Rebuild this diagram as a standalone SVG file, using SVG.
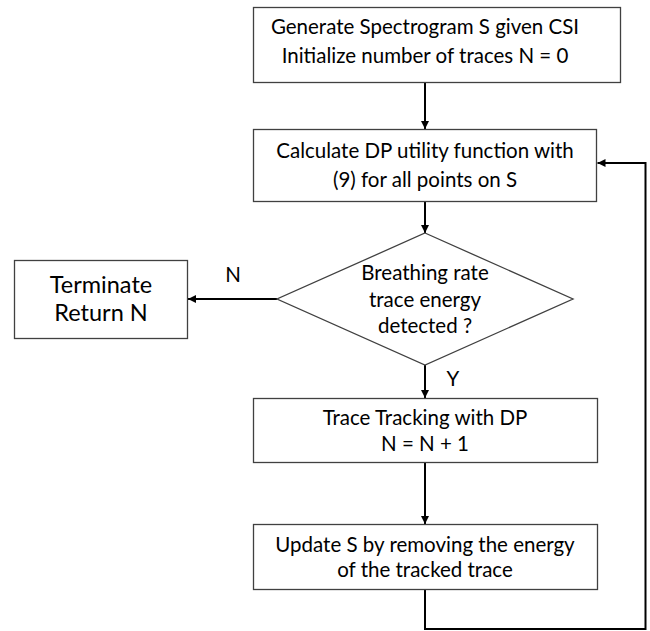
<svg xmlns="http://www.w3.org/2000/svg" width="650" height="631" viewBox="0 0 650 631">
<defs>
<style>
.box{fill:#fff;stroke:#404040;stroke-width:1.3}
.t{font-family:Lato,"Liberation Sans",sans-serif;font-size:20.5px;fill:#000;text-anchor:middle}
.tb{font-size:23.5px}
.c{fill:none;stroke:#000;stroke-width:2}
</style>
<marker id="ah" markerUnits="userSpaceOnUse" markerWidth="10" markerHeight="10" refX="8" refY="4" orient="auto">
<path d="M0,0 L8,4 L0,8 Z" fill="#000"/>
</marker>
</defs>
<rect width="650" height="631" fill="#fff"/>
<g id="connectors">
<line class="c" x1="425" y1="83" x2="425" y2="129" marker-end="url(#ah)"/>
<line class="c" x1="425" y1="202" x2="425" y2="233" marker-end="url(#ah)"/>
<line class="c" x1="277" y1="299" x2="188" y2="299" marker-end="url(#ah)"/>
<line class="c" x1="425" y1="365" x2="425" y2="398" marker-end="url(#ah)"/>
<line class="c" x1="425" y1="462" x2="425" y2="524" marker-end="url(#ah)"/>
<polyline class="c" points="425,590 425,629 645.5,629 645.5,163 597.5,163" marker-end="url(#ah)"/>
<text class="t" x="233" y="282">N</text>
<text class="t" x="453" y="386">Y</text>
</g>
<g id="generate">
<rect class="box" x="253.5" y="7.5" width="367" height="75"/>
<text class="t" x="425" y="33.5">Generate Spectrogram S given CSI</text>
<text class="t" x="425" y="62.5">Initialize number of traces N = 0</text>
</g>
<g id="calculate">
<rect class="box" x="253.5" y="129.5" width="343" height="72"/>
<text class="t" x="425" y="157.5">Calculate DP utility function with</text>
<text class="t" x="425" y="186.5">(9) for all points on S</text>
</g>
<g id="decision">
<polygon class="box" points="425,233 573,299 425,365 277,299"/>
<text class="t" x="425" y="280">Breathing rate</text>
<text class="t" x="425" y="307">trace energy</text>
<text class="t" x="425" y="333">detected ?</text>
</g>
<g id="terminate">
<rect class="box" x="14.5" y="260.5" width="173" height="78"/>
<text class="t tb" x="101" y="292.5">Terminate</text>
<text class="t tb" x="101" y="320.5">Return N</text>
</g>
<g id="tracking">
<rect class="box" x="253.5" y="398.5" width="344" height="64"/>
<text class="t" x="425" y="425">Trace Tracking with DP</text>
<text class="t" x="425" y="450.5">N = N + 1</text>
</g>
<g id="update">
<rect class="box" x="253.5" y="524.5" width="344" height="65"/>
<text class="t" x="425" y="552">Update S by removing the energy</text>
<text class="t" x="425" y="576.5">of the tracked trace</text>
</g>
</svg>
